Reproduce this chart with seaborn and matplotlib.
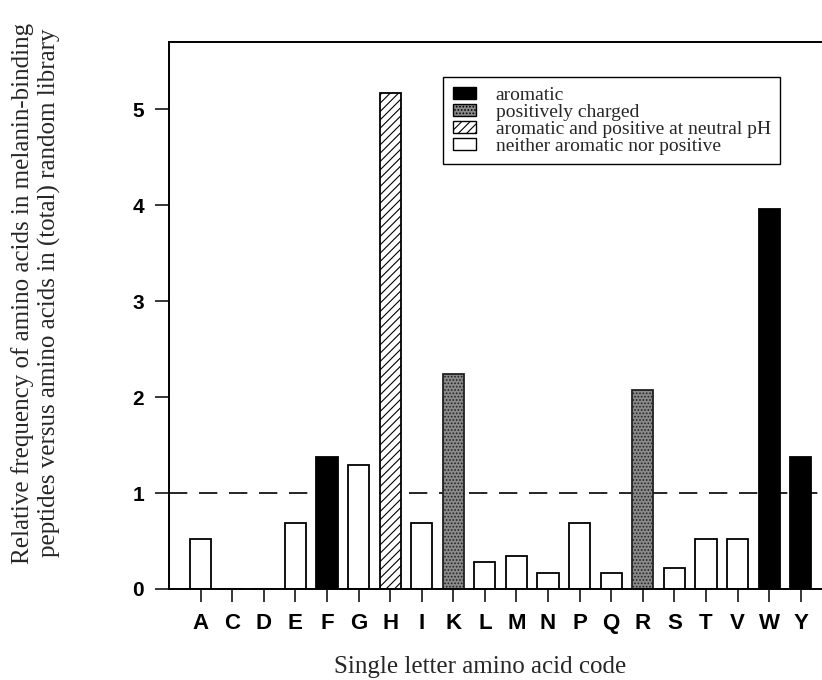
import seaborn as sns
import matplotlib.pyplot as plt
import matplotlib.patches as mpatches
import pandas as pd

letters = ['A', 'C', 'D', 'E', 'F', 'G', 'H', 'I', 'K', 'L',
           'M', 'N', 'P', 'Q', 'R', 'S', 'T', 'V', 'W', 'Y']
values = [0.52, 0.0, 0.0, 0.69, 1.38, 1.29, 5.17, 0.69, 2.24, 0.28,
          0.34, 0.17, 0.69, 0.17, 2.07, 0.22, 0.52, 0.52, 3.96, 1.38]
groups = ['neither', 'neither', 'neither', 'neither', 'aromatic', 'neither',
          'arompos', 'neither', 'positive', 'neither', 'neither', 'neither',
          'neither', 'neither', 'positive', 'neither', 'neither', 'neither',
          'aromatic', 'aromatic']
legend_labels = ['aromatic', 'positively charged',
                 'aromatic and positive at neutral pH',
                 'neither aromatic nor positive']

df = pd.DataFrame({'aa': letters, 'freq': values, 'group': groups})

face = {'aromatic': 'black', 'positive': '#8a8a8a', 'arompos': 'white', 'neither': 'white'}
hatch = {'aromatic': None, 'positive': '.....', 'arompos': '////', 'neither': None}

sns.set_style('ticks')
plt.rcParams['hatch.linewidth'] = 0.8

fig = plt.figure(figsize=(8.22, 6.8), dpi=100)
ax = fig.add_axes([169 / 822, 91 / 680, 0.80, 547 / 680])

sns.barplot(data=df, x='aa', y='freq', order=letters, color='white',
            width=0.67, edgecolor='black', linewidth=1.3, ax=ax)

for p, g in zip(ax.patches, groups):
    p.set_facecolor(face[g])
    if hatch[g]:
        p.set_hatch(hatch[g])
    if g == 'positive':
        p.set_edgecolor('#222222')

ax.axhline(1, color='black', linestyle=(0, (11, 7)), linewidth=1.2, zorder=0)

ax.set_xlim(-1.0, 19.82)
ax.set_ylim(0, 5.70)
ax.set_yticks([0, 1, 2, 3, 4, 5])
ax.tick_params(axis='x', direction='out', length=9, width=1.1, colors='black', pad=8)
ax.tick_params(axis='y', direction='out', length=10, width=1.1, colors='black', pad=8)
for lab in ax.get_xticklabels():
    lab.set_fontfamily('Liberation Sans')
    lab.set_fontweight('bold')
    lab.set_fontsize(16)
for lab in ax.get_yticklabels():
    lab.set_fontfamily('Liberation Sans')
    lab.set_fontweight('bold')
    lab.set_fontsize(15)

for s in ['left', 'bottom', 'top']:
    ax.spines[s].set_linewidth(1.4)
    ax.spines[s].set_color('black')
ax.spines['right'].set_visible(False)

ax.set_xlabel('')
ax.set_ylabel('')
fig.text(480 / 822, 1 - 667 / 680, 'Single letter amino acid code',
         fontfamily='Liberation Serif', fontsize=18, ha='center', va='center')
fig.text(36 / 822, 1 - 293 / 680,
         'Relative frequency of amino acids in melanin-binding\n'
         'peptides versus amino acids in (total) random library',
         fontfamily='Liberation Serif', fontsize=18, rotation=90,
         ha='center', va='center', linespacing=1.25)

handles = []
for key, lab in zip(['aromatic', 'positive', 'arompos', 'neither'], legend_labels):
    handles.append(mpatches.Patch(facecolor=face[key], edgecolor='black',
                                  hatch=hatch[key], label=lab))
leg = ax.legend(handles=handles, loc='upper left',
                bbox_to_anchor=(443 / 822, 1 - 77 / 680),
                bbox_transform=fig.transFigure,
                frameon=True, fancybox=False, edgecolor='black', framealpha=1,
                prop={'family': 'Liberation Serif', 'size': 14},
                handlelength=1.2, handleheight=0.55, handletextpad=1.0,
                labelspacing=0.0, borderpad=0.5, borderaxespad=0)
leg.get_frame().set_linewidth(1.0)

fig.savefig('out.png', dpi=100)
